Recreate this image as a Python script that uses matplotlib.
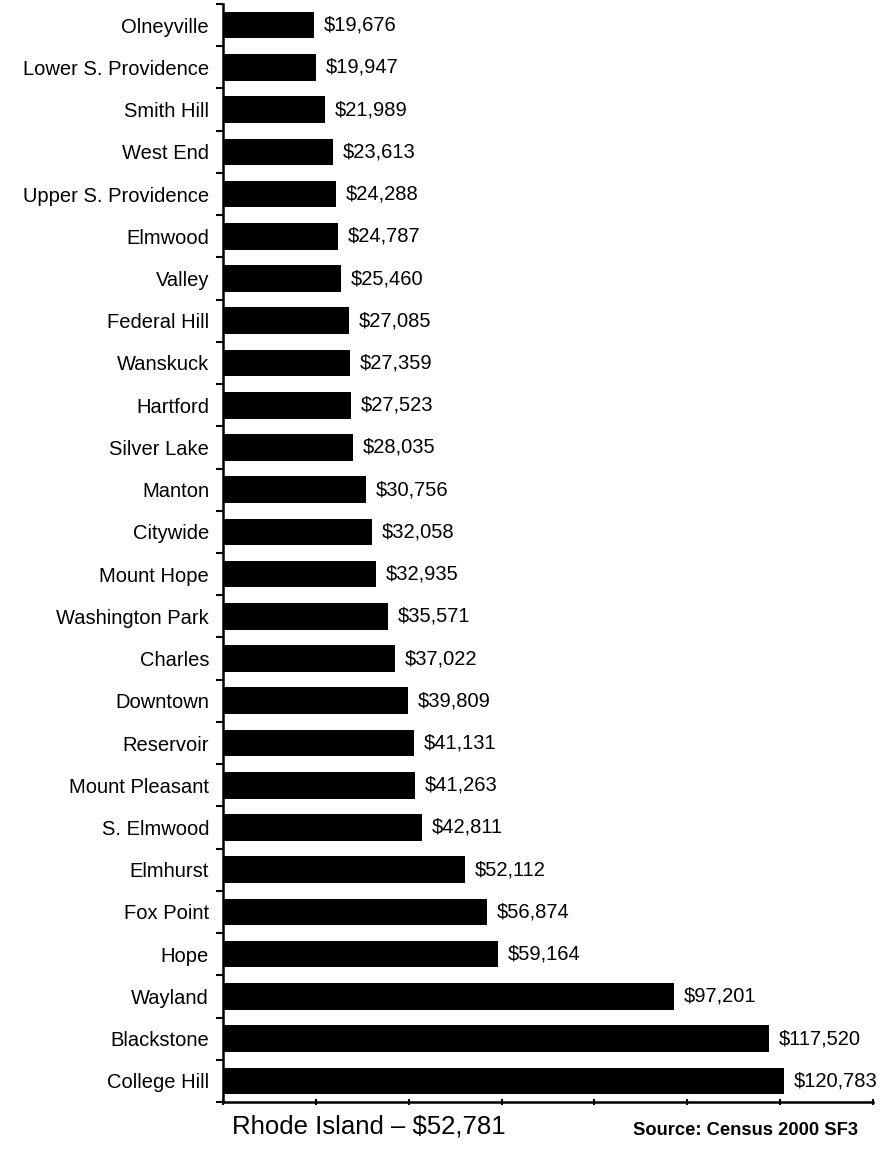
import numpy as np
import matplotlib
matplotlib.use("Agg")
import matplotlib.pyplot as plt
from matplotlib.ticker import FixedLocator

plt.rcParams['font.family'] = ['Liberation Sans', 'DejaVu Sans']

# median household income by neighborhood (Census 2000)
neighborhoods = ["Olneyville", "Lower S. Providence", "Smith Hill", "West End",
                 "Upper S. Providence", "Elmwood", "Valley", "Federal Hill",
                 "Wanskuck", "Hartford", "Silver Lake", "Manton", "Citywide",
                 "Mount Hope", "Washington Park", "Charles", "Downtown",
                 "Reservoir", "Mount Pleasant", "S. Elmwood", "Elmhurst",
                 "Fox Point", "Hope", "Wayland", "Blackstone", "College Hill"]
income = [19676, 19947, 21989, 23613, 24288, 24787, 25460, 27085, 27359,
          27523, 28035, 30756, 32058, 32935, 35571, 37022, 39809, 41131,
          41263, 42811, 52112, 56874, 59164, 97201, 117520, 120783]
x_ticks = [0, 20000, 40000, 60000, 80000, 100000, 120000, 140000]

fig = plt.figure(figsize=(8.83, 11.51), dpi=100)
ax = fig.add_axes([0.2525, 0.0426, 0.7362, 0.9539])

pos = np.arange(len(neighborhoods))
ax.barh(pos, income, height=0.63, color="black")

for p, v in zip(pos, income):
    ax.annotate("${:,}".format(v), (v, p), xytext=(7, 0), textcoords="offset points",
                va="center", ha="left", fontsize=14.5)

ax.set_ylim(len(neighborhoods) - 0.5, -0.5)
ax.set_xlim(0, 140000)
ax.set_yticks(pos)
ax.set_yticklabels(neighborhoods, fontsize=14.5)
ax.tick_params(axis="y", which="major", length=0, pad=10)
ax.yaxis.set_minor_locator(FixedLocator(np.arange(-0.5, len(neighborhoods), 1.0)))
ax.tick_params(axis="y", which="minor", length=5, width=1.5, direction="out")
ax.set_xticks(x_ticks)
ax.set_xticklabels([])
ax.tick_params(axis="x", length=4, width=1.5, direction="inout")

for s in ["top", "right"]:
    ax.spines[s].set_visible(False)
ax.spines["left"].set_linewidth(1.8)
ax.spines["bottom"].set_linewidth(1.8)

fig.text(0.263, 0.021, "Rhode Island \u2013 $52,781", fontsize=18.5, va="center", ha="left")
fig.text(0.717, 0.018, "Source: Census 2000 SF3", fontsize=13.2, fontweight="bold",
         family=["Liberation Sans Narrow", "Liberation Sans", "DejaVu Sans"],
         va="center", ha="left")

fig.savefig("out.png", dpi=100)
